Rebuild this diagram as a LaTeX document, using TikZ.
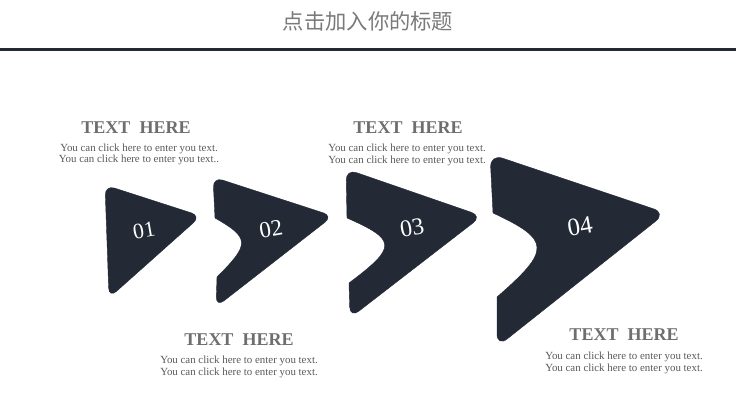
\documentclass[tikz,border=0pt]{standalone}
\usepackage{fontspec}
\setmainfont{Liberation Serif}
\newfontfamily\cjkfont{Noto Sans CJK SC}
\definecolor{navy}{HTML}{232A36}
\definecolor{titlegray}{HTML}{7A7A7A}
\definecolor{headgray}{HTML}{6E6E6E}
\definecolor{bodygray}{HTML}{5A5A5A}
\tikzset{
  arrowshape/.style={fill=navy, draw=navy, line width=0.4pt},
  numlabel/.style={text=white, font=\fontsize{23}{23}\selectfont, rotate=10, inner sep=0pt},
  headtext/.style={text=headgray, font=\fontsize{18}{18}\selectfont\bfseries, anchor=base, inner sep=0pt},
  bodytext/.style={text=bodygray, font=\fontsize{10.9}{10.9}\selectfont, anchor=base, inner sep=0pt},
}
\begin{document}
\begin{tikzpicture}[x=1pt,y=-1pt]
\useasboundingbox (0,0) rectangle (738,409);
\fill[white] (0,0) rectangle (738,409);
% title
\node[text=titlegray, font=\cjkfont\fontsize{21.3}{21.3}\selectfont, anchor=base, inner sep=0pt] (title) at (368,30) {点击加入你的标题};
\coordinate (lineL) at (0,50);
\coordinate (lineR) at (736,50);
\draw[navy, line width=3pt] (lineL) -- (lineR);
% shape 1
\path[arrowshape, rounded corners=10pt] (105,185) -- (201,216) -- (109,298) -- cycle;
% shape 2
\path[arrowshape] (215,218) [rounded corners=10pt] -- (213,177) -- (333,216) -- (216,307) [sharp corners] -- (217,277)
  .. controls (250,244) and (250,238) .. (215,218) -- cycle;
% shape 3
\path[arrowshape] (347,218) [rounded corners=11pt] -- (346,169) -- (482,216) -- (350,318) [sharp corners] -- (349,283)
  .. controls (397,247) and (397,240) .. (347,218) -- cycle;
% shape 4
\path[arrowshape] (493,213) [rounded corners=13pt] -- (490,154) -- (666,213) -- (497,347) [sharp corners] -- (497,297)
  .. controls (551,250) and (551,240) .. (493,213) -- cycle;
% numbers
\node[numlabel, font=\fontsize{22}{22}\selectfont] (n1) at (144,230) {01};
\node[numlabel, font=\fontsize{23}{23}\selectfont] (n2) at (271,229) {02};
\node[numlabel, font=\fontsize{24}{24}\selectfont] (n3) at (412,228) {03};
\node[numlabel, font=\fontsize{25}{25}\selectfont] (n4) at (580,226) {04};
% text blocks
\node[headtext] (h1) at (136,133) {TEXT\hspace{0.5em}HERE};
\node[bodytext] (a1) at (139,151) {You can click here to enter you text.};
\node[bodytext] (b1) at (139,162.5) {You can click here to enter you text..};
\node[headtext] (h2) at (408,133) {TEXT\hspace{0.5em}HERE};
\node[bodytext] (a2) at (407,151) {You can click here to enter you text.};
\node[bodytext] (b2) at (407,163) {You can click here to enter you text.};
\node[headtext] (h3) at (239,345) {TEXT\hspace{0.5em}HERE};
\node[bodytext] (a3) at (239,363) {You can click here to enter you text.};
\node[bodytext] (b3) at (239,375) {You can click here to enter you text.};
\node[headtext] (h4) at (624,340) {TEXT\hspace{0.5em}HERE};
\node[bodytext] (a4) at (624,359) {You can click here to enter you text.};
\node[bodytext] (b4) at (624,371) {You can click here to enter you text.};
\end{tikzpicture}
\end{document}
